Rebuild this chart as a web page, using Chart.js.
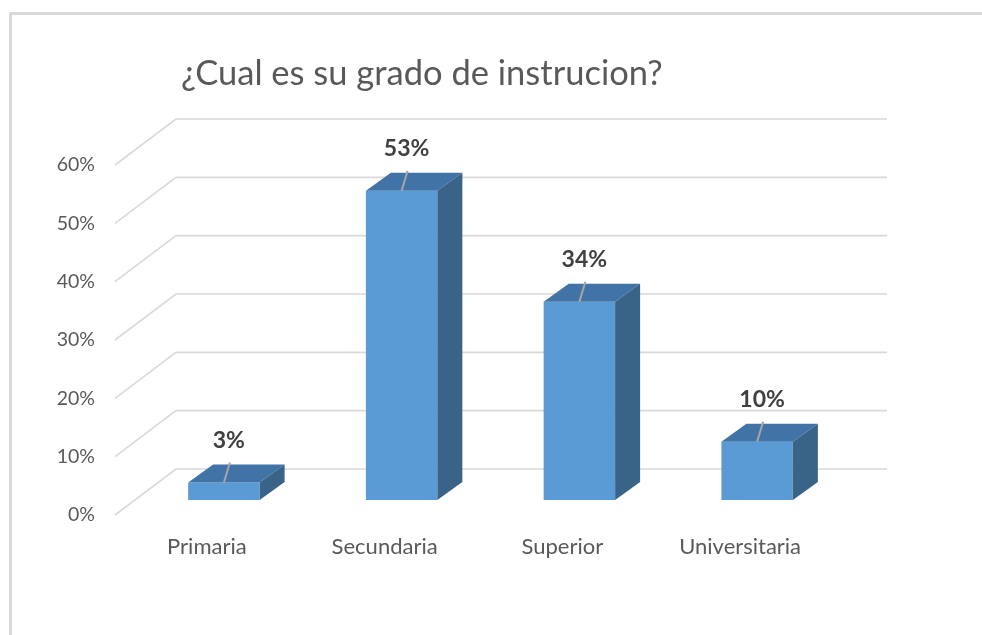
<!DOCTYPE html>
<html lang="es">
<head>
<meta charset="UTF-8">
<title>Grado de instruccion</title>
<script src="https://cdn.jsdelivr.net/npm/chart.js"></script>
<style>
  html, body { margin: 0; padding: 0; overflow: hidden; background: #fff; }
  .frame { position: absolute; left: 9px; top: 12px; width: 1000px; height: 700px;
           border-left: 3px solid #d9d9d9; border-top: 3px solid #d9d9d9; }
  #wrap { position: absolute; left: 0; top: 0; width: 982px; height: 635px; }
</style>
</head>
<body>
<div class="frame"></div>
<div id="wrap"><canvas id="chart" width="982" height="635"></canvas></div>
<script>
const categories = ['Primaria', 'Secundaria', 'Superior', 'Universitaria'];
const percentages = [3, 53, 34, 10];
const yTicks = [0, 10, 20, 30, 40, 50, 60];
const chartTitle = '¿Cual es su grado de instrucion?';

const FRONT = '#5B9BD5';
const TOP = '#4273A7';
const SIDE = '#3A6388';

// fake 3D: floor/wall gridlines, bar top+side faces, labels with leader lines
const depthPlugin = {
    id: 'depth3d',
    beforeDatasetsDraw(chart) {
        const { ctx, chartArea, scales: { y } } = chart;
        ctx.save();
        ctx.strokeStyle = '#d9d9d9';
        ctx.lineWidth = 1.6;
        yTicks.forEach(v => {
            const py = y.getPixelForValue(v);
            ctx.beginPath();
            ctx.moveTo(chartArea.left - 20, py + 15);
            ctx.lineTo(chartArea.left + 41, py - 31);
            ctx.lineTo(chartArea.right + 41, py - 31);
            ctx.stroke();
        });
        ctx.restore();
    },
    afterDatasetsDraw(chart) {
        const { ctx } = chart;
        const dx = 25, dy = -18;
        chart.getDatasetMeta(0).data.forEach(bar => {
            const { x, y, base, width } = bar.getProps(['x', 'y', 'base', 'width'], true);
            const x0 = x - width / 2, x1 = x + width / 2;
            ctx.save();
            ctx.fillStyle = TOP;
            ctx.beginPath();
            ctx.moveTo(x0, y);
            ctx.lineTo(x1, y);
            ctx.lineTo(x1 + dx, y + dy);
            ctx.lineTo(x0 + dx, y + dy);
            ctx.closePath();
            ctx.fill();
            ctx.fillStyle = SIDE;
            ctx.beginPath();
            ctx.moveTo(x1, y);
            ctx.lineTo(x1 + dx, y + dy);
            ctx.lineTo(x1 + dx, base + dy);
            ctx.lineTo(x1, base);
            ctx.closePath();
            ctx.fill();
            ctx.restore();
        });
    },
    afterDraw(chart) {
        const { ctx } = chart;
        ctx.save();
        ctx.fillStyle = '#595959';
        ctx.font = '34.5px Lato';
        ctx.textAlign = 'left';
        ctx.textBaseline = 'alphabetic';
        ctx.fillText(chartTitle, 181, 85);

        chart.getDatasetMeta(0).data.forEach((bar, i) => {
            const { x, y } = bar.getProps(['x', 'y'], true);
            ctx.strokeStyle = '#a6a6a6';
            ctx.lineWidth = 2;
            ctx.beginPath();
            ctx.moveTo(x, y);
            ctx.lineTo(x + 6, y - 20);
            ctx.stroke();
            ctx.fillStyle = '#404040';
            ctx.font = 'bold 23px Lato';
            ctx.textAlign = 'center';
            ctx.textBaseline = 'middle';
            ctx.fillText(percentages[i] + '%', x + 5, y - 42);
        });
        ctx.restore();
    }
};

new Chart(document.getElementById('chart'), {
    type: 'bar',
    data: {
        labels: categories,
        datasets: [{
            data: percentages,
            backgroundColor: FRONT,
            borderWidth: 0,
            categoryPercentage: 0.402,
            barPercentage: 1
        }]
    },
    options: {
        responsive: false,
        animation: false,
        layout: { padding: { top: 150, right: 136, bottom: 0, left: 0 } },
        plugins: {
            legend: { display: false },
            tooltip: { enabled: false },
            title: { display: false }
        },
        scales: {
            x: {
                grid: { display: false, drawTicks: false },
                border: { display: false },
                ticks: {
                    color: '#595959',
                    font: { family: 'Lato', size: 22 },
                    padding: 34,
                    labelOffset: -17,
                    maxRotation: 0
                },
                afterFit: s => { s.height = 135; }
            },
            y: {
                min: 0,
                max: 60,
                grid: { display: false, drawTicks: false },
                border: { display: false },
                ticks: {
                    color: '#595959',
                    font: { family: 'Lato', size: 19.5 },
                    padding: 40,
                    labelOffset: 15,
                    callback: v => v + '%'
                },
                afterBuildTicks: s => { s.ticks = yTicks.map(v => ({ value: v })); },
                afterFit: s => { s.width = 135; }
            }
        }
    },
    plugins: [depthPlugin]
});
</script>
</body>
</html>
